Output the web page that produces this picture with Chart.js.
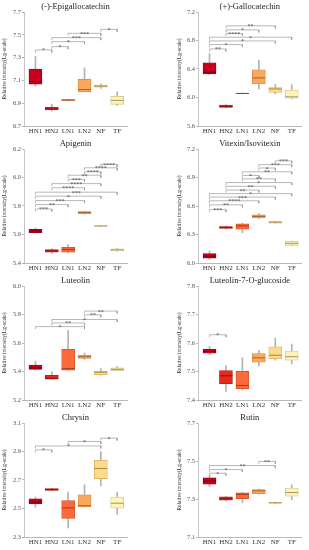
<!DOCTYPE html>
<html>
<head>
<meta charset="utf-8">
<script src="https://cdn.jsdelivr.net/npm/chart.js@4"></script>
<style>
html, body { margin: 0; padding: 0; background: #fff; }
#wrap { position: relative; width: 309px; height: 550px; overflow: hidden; }
#wrap canvas { position: absolute; }
</style>
</head>
<body>
<div id="wrap"></div>
<script>
// groups on the x axis
const groups = ['HN1', 'HN2', 'LN1', 'LN2', 'NF', 'TF'];

// each row: [min, q1, median, q3, max] for HN1..TF
const epigallocatechin = [
    [7.05, 7.068, 7.09, 7.20, 7.31],
    [6.83, 6.84, 6.85, 6.865, 6.89],
    [6.922, 6.925, 6.928, 6.932, 6.935],
    [7.00, 7.00, 7.02, 7.11, 7.21],
    [7.03, 7.04, 7.05, 7.06, 7.07],
    [6.88, 6.89, 6.925, 6.96, 7.00]
];
const gallocatechin = [
    [6.32, 6.332, 6.355, 6.488, 6.615],
    [5.855, 5.86, 5.875, 5.895, 5.90],
    [6.052, 6.055, 6.057, 6.06, 6.062],
    [6.12, 6.19, 6.275, 6.39, 6.52],
    [6.05, 6.07, 6.12, 6.14, 6.18],
    [5.98, 5.99, 6.01, 6.105, 6.18]
];
const apigenin = [
    [5.61, 5.613, 5.625, 5.637, 5.645],
    [5.47, 5.476, 5.485, 5.495, 5.50],
    [5.47, 5.476, 5.495, 5.51, 5.53],
    [5.743, 5.746, 5.755, 5.76, 5.763],
    [5.658, 5.659, 5.66, 5.661, 5.662],
    [5.483, 5.485, 5.492, 5.50, 5.503]
];
const vitexin = [
    [6.04, 6.05, 6.072, 6.10, 6.125],
    [6.36, 6.363, 6.375, 6.384, 6.39],
    [6.32, 6.356, 6.39, 6.413, 6.42],
    [6.47, 6.474, 6.49, 6.506, 6.52],
    [6.418, 6.42, 6.43, 6.435, 6.437],
    [6.183, 6.186, 6.207, 6.228, 6.232]
];
const luteolin = [
    [5.41, 5.414, 5.425, 5.445, 5.473],
    [5.345, 5.347, 5.354, 5.374, 5.397],
    [5.41, 5.41, 5.42, 5.556, 5.687],
    [5.485, 5.492, 5.504, 5.516, 5.53],
    [5.375, 5.378, 5.395, 5.402, 5.42],
    [5.405, 5.406, 5.415, 5.425, 5.435]
];
const luteolinGlc = [
    [7.56, 7.564, 7.57, 7.578, 7.588],
    [7.43, 7.457, 7.485, 7.503, 7.521],
    [7.435, 7.44, 7.451, 7.501, 7.548],
    [7.52, 7.533, 7.548, 7.563, 7.574],
    [7.54, 7.545, 7.557, 7.587, 7.617],
    [7.527, 7.54, 7.552, 7.572, 7.596]
];
const chrysin = [
    [2.509, 2.532, 2.544, 2.568, 2.58],
    [2.625, 2.627, 2.633, 2.639, 2.641],
    [2.364, 2.431, 2.504, 2.556, 2.615],
    [2.51, 2.513, 2.52, 2.596, 2.667],
    [2.658, 2.71, 2.781, 2.838, 2.90],
    [2.459, 2.502, 2.537, 2.58, 2.615]
];
const rutin = [
    [7.363, 7.378, 7.395, 7.411, 7.424],
    [7.29, 7.294, 7.302, 7.311, 7.313],
    [7.28, 7.302, 7.325, 7.332, 7.335],
    [7.326, 7.328, 7.343, 7.349, 7.352],
    [7.277, 7.278, 7.28, 7.282, 7.283],
    [7.297, 7.315, 7.334, 7.358, 7.375]
];

// significance brackets: [from, to, level, stars]
const epigallocatechinSig = [[0, 1, 7.367, '*'], [1, 2, 7.396, '*'], [1, 3, 7.44, '*'], [1, 4, 7.475, '***'], [2, 4, 7.513, '***'], [4, 5, 7.548, '*']];
const gallocatechinSig = [[1, 4, 7.006, '**'], [1, 3, 6.949, '*'], [1, 2, 6.898, '****'], [0, 5, 6.846, '*'], [0, 4, 6.794, '*'], [0, 2, 6.743, '*'], [0, 1, 6.681, '**']];
const apigeninSig = [[4, 5, 6.092, '****'], [3, 5, 6.068, '****'], [3, 4, 6.04, '****'], [2, 4, 6.016, '**'], [2, 3, 5.987, '***'], [1, 4, 5.957, '****'], [1, 3, 5.928, '****'], [0, 5, 5.897, '***'], [0, 4, 5.869, '*'], [0, 3, 5.838, '***'], [0, 2, 5.81, '**'], [0, 1, 5.779, '***']];
const vitexinSig = [[4, 5, 7.075, '***'], [3, 5, 7.035, '***'], [3, 4, 7.0, '*'], [2, 5, 6.96, '**'], [2, 3, 6.922, '*'], [2, 4, 6.886, '**'], [1, 5, 6.847, '*'], [1, 4, 6.808, '**'], [1, 3, 6.768, '**'], [0, 5, 6.73, '*'], [0, 4, 6.694, '***'], [0, 3, 6.655, '****'], [0, 2, 6.612, '**'], [0, 1, 6.562, '***']];
const luteolinSig = [[3, 5, 5.824, '**'], [3, 4, 5.798, '**'], [1, 5, 5.765, '*'], [1, 3, 5.741, '**'], [0, 3, 5.715, '*']];
const luteolinGlcSig = [[0, 1, 7.629, '*']];
const chrysinSig = [[4, 5, 2.994, '*'], [2, 4, 2.97, '*'], [0, 4, 2.939, '*'], [0, 1, 2.911, '*']];
const rutinSig = [[3, 4, 7.498, '**'], [0, 4, 7.476, '**'], [0, 2, 7.455, '*'], [0, 1, 7.436, '*']];

// y axis: [min, max, step]
const epigallocatechinAxis = [6.7, 7.7, 0.2];
const gallocatechinAxis = [5.6, 7.2, 0.4];
const apigeninAxis = [5.4, 6.2, 0.2];
const vitexinAxis = [6.0, 7.2, 0.3];
const luteolinAxis = [5.2, 6.0, 0.2];
const luteolinGlcAxis = [7.4, 7.8, 0.1];
const chrysinAxis = [2.3, 3.1, 0.2];
const rutinAxis = [7.1, 7.7, 0.2];

const panels = [
    { title: '(-)-Epigallocatechin', rows: epigallocatechin, sig: epigallocatechinSig, axis: epigallocatechinAxis },
    { title: '(+)-Gallocatechin', rows: gallocatechin, sig: gallocatechinSig, axis: gallocatechinAxis },
    { title: 'Apigenin', rows: apigenin, sig: apigeninSig, axis: apigeninAxis },
    { title: 'Vitexin/Isovitexin', rows: vitexin, sig: vitexinSig, axis: vitexinAxis },
    { title: 'Luteolin', rows: luteolin, sig: luteolinSig, axis: luteolinAxis },
    { title: 'Luteolin-7-O-glucoside', rows: luteolinGlc, sig: luteolinGlcSig, axis: luteolinGlcAxis },
    { title: 'Chrysin', rows: chrysin, sig: chrysinSig, axis: chrysinAxis },
    { title: 'Rutin', rows: rutin, sig: rutinSig, axis: rutinAxis }
];

const fill = ['#c8001e', '#e42a1f', '#fb6a3b', '#faa85c', '#fdd98a', '#fff3b5'];
const edge = ['#9c0016', '#b81d14', '#d6532a', '#d78b43', '#d6b368', '#cfc48a'];
const mid = ['#6e0010', '#8c1010', '#a83a1a', '#a8662a', '#a88a40', '#a09a6a'];
const serif = '"Liberation Serif", "DejaVu Serif", serif';

const wrap = document.getElementById('wrap');

panels.forEach((p, n) => {
    const col = n % 2;
    const row = Math.floor(n / 2);
    const canvas = document.createElement('canvas');
    canvas.width = col ? 155 : 154;
    canvas.height = 137;
    canvas.style.left = (col ? 154 : 0) + 'px';
    canvas.style.top = (row * 137) + 'px';
    wrap.appendChild(canvas);

    const [yMin, yMax, yStep] = p.axis;
    const drop = (yMax - yMin) * 0.022;

    const bracketPts = [];
    p.sig.forEach(([a, b, y]) => {
        bracketPts.push({ x: a, y: y - drop }, { x: a, y: y }, { x: b, y: y }, { x: b, y: y - drop }, { x: b, y: null });
    });

    new Chart(canvas, {
        type: 'bar',
        data: {
            datasets: [
                {
                    // whiskers
                    type: 'bar',
                    data: p.rows.map((r, i) => ({ x: i, y: [r[0], r[4]] })),
                    backgroundColor: '#b3b3b3',
                    barThickness: 1,
                    grouped: false,
                    order: 4
                },
                {
                    // boxes
                    type: 'bar',
                    data: p.rows.map((r, i) => ({ x: i, y: [r[1], r[3]] })),
                    backgroundColor: fill,
                    borderColor: edge,
                    borderWidth: 0.8,
                    borderSkipped: false,
                    barThickness: 13,
                    grouped: false,
                    order: 3
                },
                {
                    // medians
                    type: 'line',
                    data: p.rows.map((r, i) => ({ x: i, y: r[2] })),
                    showLine: false,
                    pointStyle: 'line',
                    pointRadius: 6.4,
                    pointBorderColor: mid,
                    pointBorderWidth: 1,
                    order: 2
                },
                {
                    // brackets
                    type: 'line',
                    data: bracketPts,
                    borderColor: '#9a9a9a',
                    borderWidth: 0.7,
                    pointRadius: 0,
                    spanGaps: false,
                    tension: 0,
                    order: 1
                }
            ]
        },
        options: {
            responsive: false,
            animation: false,
            devicePixelRatio: 1,
            events: [],
            layout: { padding: { left: col ? 21 : 0, right: col ? 5 : 27, top: 12, bottom: 0 } },
            plugins: { legend: { display: false }, tooltip: { enabled: false } },
            scales: {
                x: {
                    type: 'linear',
                    min: -0.7,
                    max: 5.6,
                    offset: false,
                    afterBuildTicks: s => { s.ticks = groups.map((g, i) => ({ value: i })); },
                    afterFit: s => { s.height = 11; },
                    ticks: {
                        callback: v => groups[v],
                        font: { family: serif, size: 7 },
                        color: '#333',
                        padding: 1,
                        autoSkip: false,
                        maxRotation: 0
                    },
                    grid: { display: false, drawTicks: false },
                    border: { display: true, color: '#a8a8a8', width: 0.8 }
                },
                y: {
                    min: yMin,
                    max: yMax,
                    afterFit: s => { s.width = col ? 23 : 24; },
                    ticks: {
                        stepSize: yStep,
                        callback: v => v.toFixed(1),
                        font: { family: serif, size: 6.5 },
                        color: '#555',
                        padding: 1
                    },
                    grid: { drawOnChartArea: false, tickLength: 2, color: '#b8b8b8' },
                    border: { color: '#b8b8b8', width: 0.8 },
                    title: {
                        display: true,
                        text: 'Relative intensity(Lg-scale)',
                        font: { family: serif, size: 5.5 },
                        color: '#333',
                        padding: { top: 1, bottom: 0 }
                    }
                }
            }
        },
        plugins: [{
            id: 'labels',
            afterDatasetsDraw(chart) {
                const ctx = chart.ctx;
                const xs = chart.scales.x;
                const ys = chart.scales.y;
                const area = chart.chartArea;
                ctx.save();
                ctx.fillStyle = '#222';
                ctx.textAlign = 'center';
                ctx.textBaseline = 'middle';
                ctx.font = '8.5px ' + serif;
                ctx.fillText(p.title, (area.left + area.right) / 2, 6.5);
                ctx.fillStyle = '#444';
                ctx.font = '6px ' + serif;
                ctx.textBaseline = 'alphabetic';
                p.sig.forEach(([a, b, y, star]) => {
                    ctx.fillText(star, xs.getPixelForValue((a + b) / 2), ys.getPixelForValue(y) + 2.5);
                });
                ctx.restore();
            }
        }]
    });
});
</script>
</body>
</html>
